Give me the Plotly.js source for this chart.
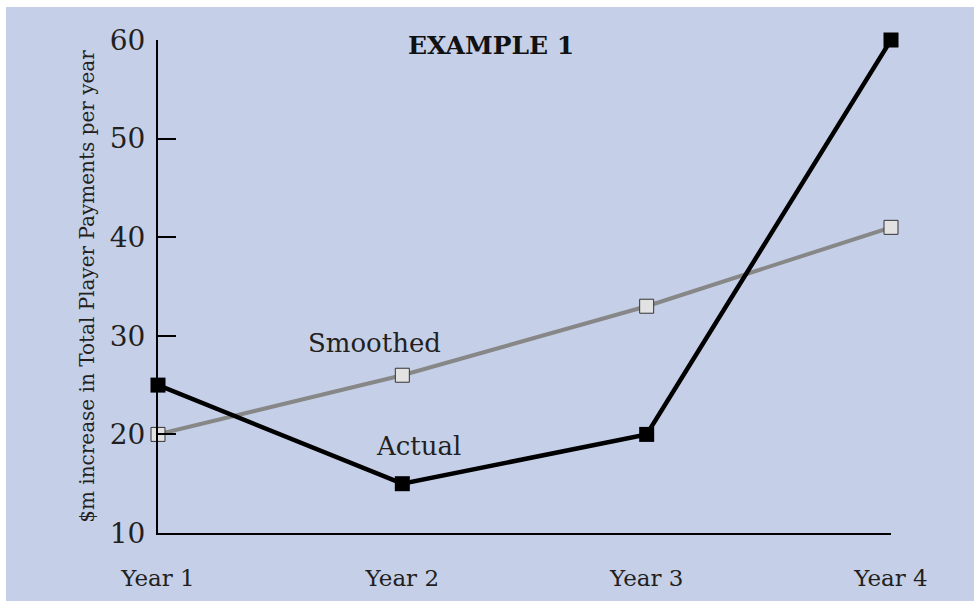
<!DOCTYPE html>
<html>
<head>
<meta charset="utf-8">
<script src="https://cdn.plot.ly/plotly-3.0.1.min.js"></script>
<style>
html,body{margin:0;padding:0;background:#ffffff;}
#chart{position:absolute;left:6px;top:7px;width:968px;height:594px;}
</style>
</head>
<body>
<div id="chart"></div>
<script>
const categories = ["Year 1", "Year 2", "Year 3", "Year 4"];
const actualValues = [25, 15, 20, 60];
const smoothedValues = [20, 26, 33, 41];
const yTickValues = [10, 20, 30, 40, 50, 60];
const titleText = "EXAMPLE 1";
const yTitleText = "$m increase in Total Player Payments per year";

const serif = "DejaVu Serif, serif";
const bg = "#c5d0e8";

const traces = [
  {
    x: categories, y: smoothedValues, type: "scatter", mode: "lines+markers",
    name: "Smoothed", cliponaxis: false,
    line: {color: "#878787", width: 4},
    marker: {symbol: "square", size: 14, color: "#e2e2e2", line: {color: "#333333", width: 1}}
  },
  {
    x: categories, y: actualValues, type: "scatter", mode: "lines+markers",
    name: "Actual", cliponaxis: false,
    line: {color: "#000000", width: 4.5},
    marker: {symbol: "square", size: 15, color: "#000000", line: {color: "#000000", width: 0}}
  }
];

const layout = {
  width: 968, height: 594,
  paper_bgcolor: bg, plot_bgcolor: bg,
  margin: {l: 152, r: 83, t: 33, b: 68},
  showlegend: false,
  font: {family: serif, color: "#231f20"},
  xaxis: {
    type: "category", range: [0, 3],
    showgrid: false, zeroline: false,
    showline: true, linecolor: "#000000", linewidth: 2,
    ticks: "", ticklabelstandoff: 23,
    tickfont: {family: serif, size: 23, color: "#231f20"}
  },
  yaxis: {
    range: [10, 60], tickvals: yTickValues,
    showgrid: false, zeroline: false,
    showline: true, linecolor: "#000000", linewidth: 2,
    ticks: "inside", ticklen: 18, tickwidth: 2, tickcolor: "#000000",
    ticklabelstandoff: 5,
    tickfont: {family: serif, size: 28, color: "#231f20"},
    title: {text: yTitleText, font: {family: serif, size: 20, color: "#231f20"}, standoff: 10}
  },
  annotations: [
    {text: "<b>" + titleText + "</b>", xref: "paper", yref: "y", x: 0.454, y: 59.4,
     showarrow: false, font: {family: serif, size: 25, color: "#111111"}},
    {text: "Smoothed", xref: "x", yref: "y", x: 0.888, y: 29.3,
     showarrow: false, font: {family: serif, size: 26, color: "#231f20"}},
    {text: "Actual", xref: "x", yref: "y", x: 1.068, y: 18.8,
     showarrow: false, font: {family: serif, size: 26, color: "#231f20"}}
  ]
};

Plotly.newPlot("chart", traces, layout, {staticPlot: true, displayModeBar: false});
</script>
</body>
</html>
